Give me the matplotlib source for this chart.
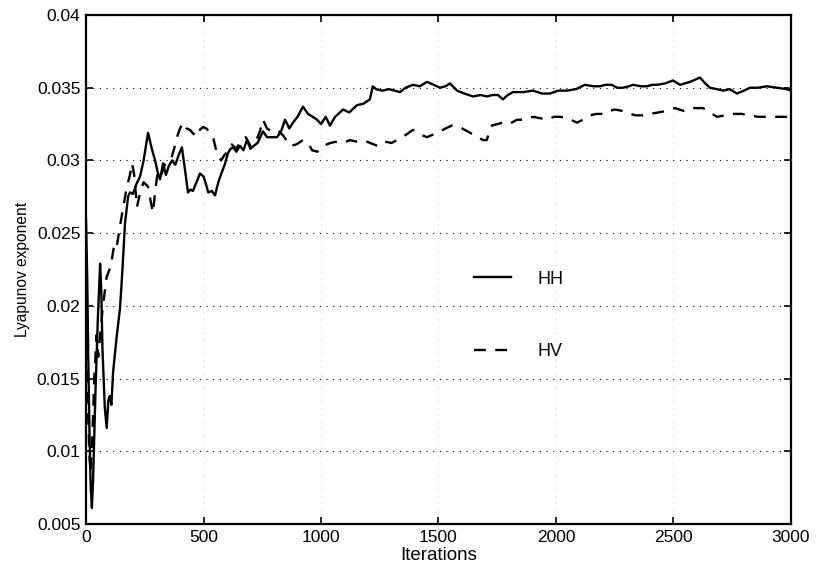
import matplotlib.pyplot as plt

plt.rcParams['font.family'] = ['Liberation Sans', 'DejaVu Sans']

# HH channel, largest Lyapunov exponent vs iteration
hh_iter = [0, 5, 10, 15, 20, 25, 30, 35, 40, 50, 60, 65, 70, 80, 88, 95, 101, 108, 115, 130,
           145, 155, 166, 179, 187, 200, 215, 230, 245, 264, 280, 294, 305, 315, 328, 340, 352,
           366, 380, 395, 408, 420, 434, 445, 455, 470, 485, 500, 510, 520, 535, 549, 563, 578,
           590, 604, 615, 626, 640, 655, 670, 685, 700, 713, 730, 753, 770, 790, 813, 830, 847,
           865, 881, 900, 923, 945, 965, 983, 1000, 1020, 1038, 1060, 1080, 1094, 1120, 1153,
           1180, 1208, 1220, 1235, 1260, 1290, 1336, 1360, 1391, 1420, 1451, 1480, 1506, 1530,
           1549, 1579, 1610, 1647, 1680, 1706, 1730, 1753, 1774, 1795, 1817, 1860, 1902, 1940,
           1974, 2010, 2047, 2085, 2123, 2160, 2187, 2210, 2237, 2260, 2285, 2310, 2328, 2360,
           2387, 2410, 2430, 2465, 2498, 2528, 2570, 2613, 2635, 2655, 2685, 2711, 2740, 2770,
           2800, 2826, 2860, 2898, 2940, 2983, 3000]
hh_lyap = [0.026, 0.022, 0.016, 0.011, 0.0075, 0.0061, 0.008, 0.011, 0.014, 0.019, 0.0229,
           0.021, 0.017, 0.013, 0.0116, 0.0135, 0.0138, 0.0132, 0.0154, 0.0178, 0.0199, 0.0225,
           0.0257, 0.0275, 0.0278, 0.0277, 0.0284, 0.0289, 0.0300, 0.0319, 0.0308, 0.0300,
           0.0292, 0.0287, 0.0298, 0.0290, 0.0296, 0.0300, 0.0297, 0.0304, 0.0309, 0.0295,
           0.0278, 0.0280, 0.0279, 0.0285, 0.0291, 0.0289, 0.0284, 0.0278, 0.0279, 0.0276,
           0.0285, 0.0292, 0.0297, 0.0305, 0.0308, 0.0309, 0.0306, 0.0310, 0.0307, 0.0314,
           0.0308, 0.0310, 0.0312, 0.0320, 0.0316, 0.0316, 0.0316, 0.0320, 0.0328, 0.0322,
           0.0326, 0.0330, 0.0337, 0.0332, 0.0330, 0.0328, 0.0325, 0.0330, 0.0324, 0.0330,
           0.0333, 0.0335, 0.0333, 0.0338, 0.0339, 0.0342, 0.0351, 0.0349, 0.0348, 0.0349,
           0.0347, 0.0350, 0.0352, 0.0351, 0.0354, 0.0352, 0.0350, 0.0351, 0.0353, 0.0348,
           0.0346, 0.0344, 0.0345, 0.0344, 0.0345, 0.0345, 0.0342, 0.0345, 0.0347, 0.0347,
           0.0348, 0.0346, 0.0346, 0.0348, 0.0348, 0.0349, 0.0352, 0.0351, 0.0351, 0.0352,
           0.0352, 0.0350, 0.0350, 0.0351, 0.0352, 0.0351, 0.0351, 0.0352, 0.0352, 0.0353,
           0.0355, 0.0352, 0.0354, 0.0357, 0.0353, 0.0350, 0.0349, 0.0348, 0.0349, 0.0346,
           0.0348, 0.0350, 0.0350, 0.0351, 0.0350, 0.0349, 0.0348]

# HV channel
hv_iter = [0, 8, 15, 20, 27, 35, 45, 52, 60, 72, 88, 100, 110, 120, 130, 140, 155, 174, 187,
           196, 205, 217, 230, 245, 264, 275, 285, 295, 306, 320, 335, 345, 360, 375, 387, 400,
           413, 428, 443, 458, 472, 485, 498, 512, 528, 542, 557, 575, 590, 604, 620, 640, 660,
           680, 700, 720, 740, 753, 770, 790, 813, 840, 868, 895, 923, 945, 962, 985, 1009,
           1040, 1068, 1095, 1123, 1150, 1179, 1210, 1240, 1270, 1300, 1336, 1365, 1391, 1420,
           1451, 1480, 1506, 1530, 1557, 1590, 1634, 1660, 1689, 1705, 1727, 1750, 1774, 1800,
           1834, 1870, 1902, 1935, 1966, 1990, 2017, 2050, 2089, 2115, 2145, 2170, 2200, 2225,
           2251, 2285, 2315, 2340, 2370, 2400, 2434, 2470, 2506, 2545, 2583, 2626, 2655, 2685,
           2720, 2753, 2790, 2826, 2860, 2898, 2940, 2983, 3000]
hv_lyap = [0.017, 0.013, 0.0095, 0.0085, 0.011, 0.015, 0.018, 0.0165, 0.018, 0.020, 0.022,
           0.0225, 0.0232, 0.0242, 0.0240, 0.0250, 0.0265, 0.0282, 0.0290, 0.0298, 0.0290,
           0.0268, 0.0278, 0.0285, 0.0282, 0.0272, 0.0264, 0.0280, 0.0293, 0.0290, 0.0297,
           0.0298, 0.0300, 0.0308, 0.0316, 0.0322, 0.0326, 0.0322, 0.0321, 0.0318, 0.0323,
           0.0321, 0.0323, 0.0322, 0.0319, 0.0315, 0.0305, 0.0300, 0.0304, 0.0306, 0.0311,
           0.0308, 0.0314, 0.0316, 0.0310, 0.0312, 0.0320, 0.0328, 0.0322, 0.0320, 0.0321,
           0.0317, 0.0310, 0.0311, 0.0314, 0.0312, 0.0307, 0.0306, 0.0310, 0.0312, 0.0313,
           0.0312, 0.0314, 0.0313, 0.0314, 0.0312, 0.0310, 0.0313, 0.0312, 0.0315, 0.0318,
           0.0321, 0.0318, 0.0316, 0.0318, 0.0320, 0.0322, 0.0324, 0.0323, 0.0319, 0.0317,
           0.0314, 0.0314, 0.0324, 0.0325, 0.0326, 0.0325, 0.0328, 0.0328, 0.0330, 0.0329,
           0.0328, 0.0330, 0.0330, 0.0329, 0.0326, 0.0328, 0.0331, 0.0332, 0.0332, 0.0334,
           0.0335, 0.0334, 0.0332, 0.0331, 0.0331, 0.0332, 0.0333, 0.0334, 0.0336, 0.0334,
           0.0336, 0.0336, 0.0333, 0.0330, 0.0331, 0.0332, 0.0332, 0.0331, 0.0330, 0.0330,
           0.0330, 0.0330, 0.0331]

x_ticks = [0, 500, 1000, 1500, 2000, 2500, 3000]
y_ticks = [0.005, 0.01, 0.015, 0.02, 0.025, 0.03, 0.035, 0.04]
y_ticklabels = ['0.005', '0.01', '0.015', '0.02', '0.025', '0.03', '0.035', '0.04']

fig = plt.figure(figsize=(8.2, 5.71), dpi=100)
ax = fig.add_axes([0.1049, 0.0823, 0.8597, 0.8914])

ax.plot(hh_iter, hh_lyap, color='black', lw=1.7, label='HH')
ax.plot(hv_iter, hv_lyap, color='black', lw=1.7, dashes=(5, 4), label='HV')

ax.set_xlim(0, 3000)
ax.set_ylim(0.005, 0.04)
ax.set_xticks(x_ticks)
ax.set_yticks(y_ticks)
ax.set_yticklabels(y_ticklabels)

# matlab style grid: dotted rows, faint columns
ax.yaxis.grid(True, linestyle=(0, (1, 5)), color='black', lw=0.8)
ax.xaxis.grid(True, linestyle=(0, (1, 6)), color='#d0d0d0', lw=0.7)

ax.tick_params(direction='in', top=True, right=True, length=5, width=1.2,
               labelsize=12.5, pad=4)
for s in ax.spines.values():
    s.set_linewidth(1.6)

ax.set_xlabel('Iterations', fontsize=13.5, labelpad=2)
ax.set_ylabel('Lyapunov exponent', fontsize=11.2, labelpad=5)

ax.legend(loc='center left', bbox_to_anchor=(0.527, 0.41), frameon=False,
          fontsize=13, handlelength=2.05, handletextpad=1.5, labelspacing=3.05)

plt.savefig('out.png', dpi=100)
